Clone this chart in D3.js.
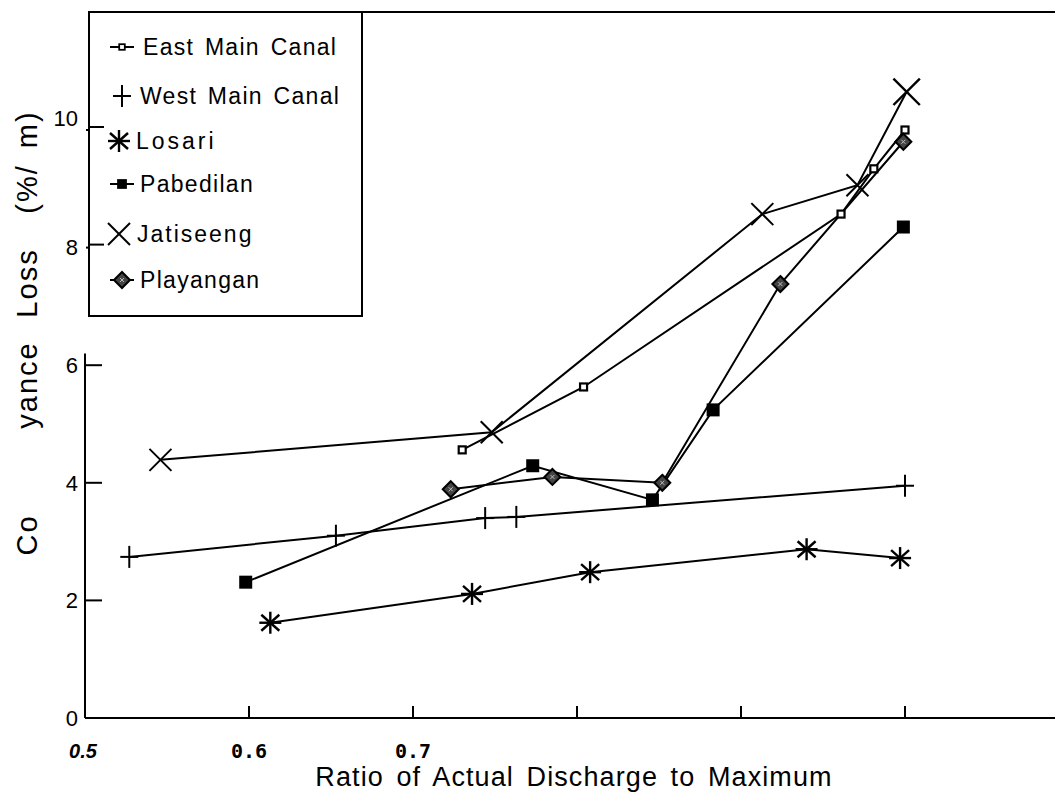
<!DOCTYPE html>
<html><head><meta charset="utf-8">
<script src="https://cdn.jsdelivr.net/npm/d3@7"></script>
<style>body{margin:0;background:#fff}svg{display:block}text{font-family:"Liberation Sans",Arial,sans-serif;fill:#000}</style>
</head><body>
<svg id="c" width="1055" height="803"></svg>
<script>
const seriesNames = ["East Main Canal","West Main Canal","Losari","Pabedilan","Jatiseeng","Playangan"];
const eastX = [0.730,0.804,0.961,0.981,1.000];
const eastY = [4.56,5.63,8.57,9.34,10.00];
const westX = [0.527,0.653,0.744,0.763,1.000];
const westY = [2.74,3.10,3.40,3.42,3.95];
const losariX = [0.613,0.736,0.808,0.940,0.997];
const losariY = [1.62,2.11,2.48,2.87,2.72];
const pabedilanX = [0.598,0.773,0.846,0.883,0.999];
const pabedilanY = [2.31,4.29,3.71,5.24,8.35];
const jatiseengX = [0.546,0.748,0.913,0.971,1.001];
const jatiseengY = [4.39,4.86,8.57,9.06,10.65];
const playanganX = [0.723,0.785,0.852,0.924,0.999];
const playanganY = [3.89,4.10,4.00,7.38,9.80];
const xTickValues = [0.6,0.7,0.8,0.9,1.0];
const xTickLabels = ["0.5","0.6","0.7"];
const yTickValues = [2,4,6,8,10];
const yTickLabels = ["0","2","4","6","8","10"];
const yTitleParts = ["Co","yance","Loss","(%/ m)"];

const svg = d3.select("#c");
const x = d3.scaleLinear().domain([0.5,1.0]).range([85,905]);
const y = d3.scaleLinear().domain([0,10]).range([718,130]);

const series = [
  {name:seriesNames[0], xs:eastX, ys:eastY, m:"sq"},
  {name:seriesNames[1], xs:westX, ys:westY, m:"plus"},
  {name:seriesNames[2], xs:losariX, ys:losariY, m:"ast"},
  {name:seriesNames[3], xs:pabedilanX, ys:pabedilanY, m:"fsq"},
  {name:seriesNames[4], xs:jatiseengX, ys:jatiseengY, m:"x"},
  {name:seriesNames[5], xs:playanganX, ys:playanganY, m:"dia"}
];

function marker(g, type, cx, cy, scale){
  scale = scale||1;
  const s = g.append("g").attr("transform",`translate(${cx},${cy}) scale(${scale})`);
  if(type==="sq"){
    s.append("rect").attr("x",-3.5).attr("y",-3.5).attr("width",7).attr("height",7).attr("fill","#fff").attr("stroke","#000").attr("stroke-width",2.2);
  } else if(type==="plus"){
    s.append("line").attr("x1",0).attr("x2",0).attr("y1",-11).attr("y2",11).attr("stroke","#000").attr("stroke-width",2);
    s.append("line").attr("x1",-9).attr("x2",9).attr("y1",0).attr("y2",0).attr("stroke","#000").attr("stroke-width",2);
  } else if(type==="ast"){
    const r=11;
    [[0,-r,0,r],[-r,0,r,0],[-9,-8,9,8],[-9,8,9,-8]].forEach(d=>{
      s.append("line").attr("x1",d[0]).attr("y1",d[1]).attr("x2",d[2]).attr("y2",d[3]).attr("stroke","#000").attr("stroke-width",2.4);
    });
  } else if(type==="fsq"){
    s.append("rect").attr("x",-6.5).attr("y",-6.5).attr("width",13).attr("height",13).attr("fill","#000");
  } else if(type==="x"){
    const r=11;
    [[-r,-r,r,r],[-r,r,r,-r]].forEach(d=>{
      s.append("line").attr("x1",d[0]).attr("y1",d[1]).attr("x2",d[2]).attr("y2",d[3]).attr("stroke","#000").attr("stroke-width",2);
    });
  } else if(type==="dia"){
    s.append("path").attr("d","M0,-8L8,0L0,8L-8,0Z").attr("fill","#444").attr("stroke","#000").attr("stroke-width",2);
    s.append("path").attr("d","M-2,-2L2,2M-2,2L2,-2").attr("stroke","#bbb").attr("stroke-width",1);
  }
}

// axes
const ax = svg.append("g").attr("stroke","#000").attr("stroke-width",2);
ax.append("line").attr("x1",85).attr("x2",1055).attr("y1",y(0)).attr("y2",y(0));
ax.append("line").attr("x1",85).attr("x2",85).attr("y1",y(0)).attr("y2",y(6.2));
ax.append("line").attr("x1",88).attr("x2",1055).attr("y1",12).attr("y2",12);
xTickValues.forEach(v=>{
  ax.append("line").attr("x1",x(v)).attr("x2",x(v)).attr("y1",y(0)).attr("y2",y(0)-12);
});
yTickValues.forEach(v=>{
  ax.append("line").attr("x1",86).attr("x2",102).attr("y1",y(v)).attr("y2",y(v));
});

// legend box
svg.append("rect").attr("x",89).attr("y",12).attr("width",273).attr("height",304)
  .attr("fill","#fff").attr("stroke","#000").attr("stroke-width",2);
[10,8].forEach(v=>{
  svg.append("line").attr("x1",88).attr("x2",104).attr("y1",y(v)-3).attr("y2",y(v)-3).attr("stroke","#000").attr("stroke-width",2);
});

// tick labels
yTickLabels.forEach((t,i)=>{
  const v = i*2;
  svg.append("text").attr("x",78).attr("y",y(v)+(v===10?-12:0)).attr("dy","0.35em")
    .attr("text-anchor","end").attr("font-size",22).text(t);
});
const xLabPos = [0.5,0.6,0.7];
xTickLabels.forEach((t,i)=>{
  const tx = svg.append("text").attr("x",x(xLabPos[i])).attr("y",758).attr("text-anchor","middle")
    .attr("font-size",20).attr("font-weight","bold").text(t);
  if(i===0) tx.attr("font-style","italic").attr("x",x(xLabPos[i])-2);
  else tx.style("font-family","'DejaVu Sans Mono',monospace");
});

// titles
svg.append("text").attr("x",574).attr("y",786).attr("text-anchor","middle").attr("font-size",27)
  .attr("letter-spacing",1.1).attr("word-spacing",4)
  .text("Ratio of Actual Discharge to Maximum");
const yt = svg.append("text").attr("transform","translate(37,0) rotate(-90)").attr("text-anchor","middle")
  .attr("font-size",29).attr("letter-spacing",2);
const yTitlePos = [535, 385, 283, 162];
yTitleParts.forEach((p,i)=>{
  yt.append("tspan").attr("x",-yTitlePos[i]).attr("y",0).attr("word-spacing",6).text(p);
});

// series
const line = d3.line().x(d=>x(d[0])).y(d=>y(d[1]));
series.forEach(s=>{
  const pts = s.xs.map((v,i)=>[v,s.ys[i]]);
  svg.append("path").attr("d",line(pts)).attr("fill","none").attr("stroke","#000").attr("stroke-width",2);
});
series.forEach(s=>{
  const g = svg.append("g");
  s.xs.forEach((v,i)=>{
    const big = (s.m==="x" && i===s.xs.length-1) ? 1.2 : 1;
    marker(g, s.m, x(v), y(s.ys[i]), big);
  });
});

// legend items
const legY = [47,96,141,184,234,280];
const legTx = [143,140,136,140,137,140];
const legLS = [1.3,1.3,3,1.3,2,1.3];
series.forEach((s,i)=>{
  const g = svg.append("g");
  const cx = 122;
  if(s.m==="sq"||s.m==="fsq"||s.m==="dia"){
    g.append("line").attr("x1",cx-12).attr("x2",cx+12).attr("y1",legY[i]).attr("y2",legY[i]).attr("stroke","#000").attr("stroke-width",2);
  }
  marker(g, s.m, cx-(s.m==="ast"||s.m==="x"?3:0), legY[i], s.m==="sq"?0.8:(s.m==="fsq"?0.75:1));
  svg.append("text").attr("x",legTx[i]).attr("y",legY[i]).attr("dy","0.35em").attr("font-size",23)
    .attr("letter-spacing",legLS[i]).attr("word-spacing",3).text(s.name);
});
</script>
</body></html>
